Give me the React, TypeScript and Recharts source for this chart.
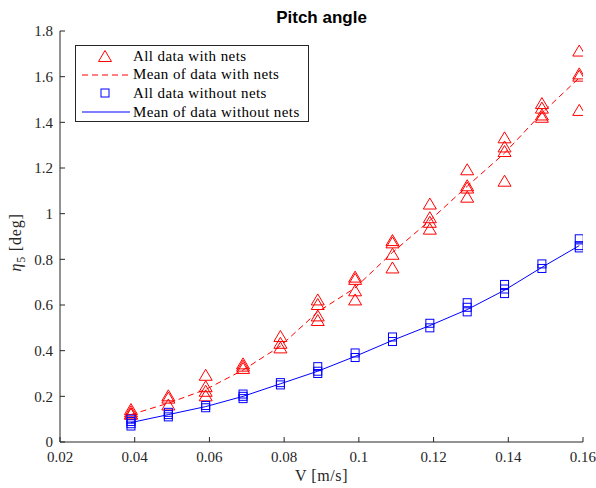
import React from "react";
import {
  ComposedChart,
  Scatter,
  Line,
  XAxis,
  YAxis,
} from "recharts";

// speeds [m/s]
const speeds = [0.039, 0.049, 0.059, 0.069, 0.079, 0.089, 0.099, 0.109, 0.119, 0.129, 0.139, 0.149, 0.159];

// all runs with nets, per speed
const withNets = [
  [0.14, 0.13, 0.12, 0.12],
  [0.2, 0.19, 0.16],
  [0.29, 0.24, 0.22, 0.2],
  [0.34, 0.33, 0.32],
  [0.46, 0.43, 0.41],
  [0.62, 0.6, 0.55, 0.53],
  [0.72, 0.71, 0.66, 0.62],
  [0.88, 0.87, 0.82, 0.76],
  [1.04, 0.98, 0.96, 0.93],
  [1.19, 1.12, 1.11, 1.07],
  [1.33, 1.29, 1.27, 1.14],
  [1.48, 1.46, 1.43, 1.42],
  [1.71, 1.61, 1.6, 1.45],
];

// all runs without nets, per speed
const withoutNets = [
  [0.1, 0.09, 0.08, 0.07],
  [0.13, 0.12, 0.11],
  [0.16, 0.15],
  [0.21, 0.2, 0.19],
  [0.26, 0.25],
  [0.33, 0.31, 0.3],
  [0.39, 0.37],
  [0.46, 0.44],
  [0.52, 0.5],
  [0.61, 0.59, 0.57],
  [0.69, 0.67, 0.65],
  [0.78, 0.76],
  [0.89, 0.86, 0.85],
];

const meanWithNets = [0.12, 0.17, 0.23, 0.315, 0.42, 0.57, 0.675, 0.83, 0.97, 1.12, 1.265, 1.44, 1.595];
const meanWithoutNets = [0.085, 0.12, 0.155, 0.2, 0.255, 0.31, 0.375, 0.445, 0.51, 0.58, 0.665, 0.765, 0.86];

const xTicks = [0.02, 0.04, 0.06, 0.08, 0.1, 0.12, 0.14, 0.16];
const yTicks = [0, 0.2, 0.4, 0.6, 0.8, 1, 1.2, 1.4, 1.6, 1.8];

const flatten = (runs: number[][]) =>
  runs.flatMap((vals, i) => vals.map((eta) => ({ v: speeds[i], eta })));
const toLine = (means: number[]) => means.map((eta, i) => ({ v: speeds[i], eta }));

const RED = "#ff0000";
const BLUE = "#0000ff";
const AXIS = "#262626";
const SERIF = "'Liberation Serif', 'DejaVu Serif', serif";

const Triangle = (props: any) => {
  const { cx, cy } = props;
  if (cx == null || cy == null) return <g />;
  return (
    <path
      d={`M${cx},${cy - 6.5}L${cx - 6.5},${cy + 4.5}L${cx + 6.5},${cy + 4.5}Z`}
      fill="none"
      stroke={RED}
      strokeWidth={1}
    />
  );
};

const Square = (props: any) => {
  const { cx, cy } = props;
  if (cx == null || cy == null) return <g />;
  return (
    <rect x={cx - 4} y={cy - 4} width={8} height={8} fill="none" stroke={BLUE} strokeWidth={1} />
  );
};

const YLabel = (props: any) => {
  const vb = props.viewBox || {};
  const cy = vb.y + vb.height / 2 + 6;
  const cx = 21;
  return (
    <text
      x={cx}
      y={cy}
      transform={`rotate(-90, ${cx}, ${cy})`}
      textAnchor="middle"
      fontFamily={SERIF}
      fontSize={16}
      letterSpacing={0.8}
      fill={AXIS}
    >
      <tspan fontStyle="italic">η</tspan>
      <tspan fontSize={12} dy={4}>5</tspan>
      <tspan dy={-4}> [deg]</tspan>
    </text>
  );
};

const tickStyle = { fontFamily: SERIF, fontSize: 15, fill: AXIS };

export default function App() {
  return (
    <div style={{ position: "absolute", left: 0, top: 0, width: 596, height: 488, background: "#fff" }}>
      <div
        style={{
          position: "absolute",
          left: 60,
          top: 8,
          width: 523,
          textAlign: "center",
          fontFamily: "'Liberation Sans', Arial, sans-serif",
          fontWeight: "bold",
          fontSize: 17,
          lineHeight: "20px",
          color: "#000",
        }}
      >
        Pitch angle
      </div>

      <ComposedChart width={596} height={488} margin={{ top: 31, right: 13, bottom: 0, left: 0 }}>
        <XAxis
          dataKey="v"
          type="number"
          domain={[0.02, 0.16]}
          ticks={xTicks}
          allowDataOverflow
          stroke={AXIS}
          height={46}
          tickSize={-5}
          tickMargin={14}
          tick={tickStyle}
          label={{
            value: "V [m/s]",
            position: "insideBottom",
            offset: 7,
            style: { fontFamily: SERIF, fontSize: 16, letterSpacing: 0.6, fill: AXIS },
          }}
        />
        <XAxis
          xAxisId="top"
          orientation="top"
          dataKey="v"
          type="number"
          domain={[0.02, 0.16]}
          ticks={xTicks}
          allowDataOverflow
          stroke={AXIS}
          height={0}
          tickSize={-5}
          tick={() => <g />}
        />
        <YAxis
          dataKey="eta"
          type="number"
          domain={[0, 1.8]}
          ticks={yTicks}
          allowDataOverflow
          stroke={AXIS}
          width={60}
          tickSize={-5}
          tickMargin={12}
          tick={tickStyle}
          label={<YLabel />}
        />
        <YAxis
          yAxisId="right"
          orientation="right"
          type="number"
          domain={[0, 1.8]}
          ticks={yTicks}
          allowDataOverflow
          stroke={AXIS}
          width={0}
          tickSize={-5}
          tick={() => <g />}
        />

        <Scatter data={flatten(withNets)} dataKey="eta" shape={<Triangle />} isAnimationActive={false} />
        <Line
          data={toLine(meanWithNets)}
          dataKey="eta"
          type="linear"
          stroke={RED}
          strokeWidth={1}
          strokeDasharray="6 4"
          dot={false}
          activeDot={false}
          isAnimationActive={false}
        />
        <Scatter data={flatten(withoutNets)} dataKey="eta" shape={<Square />} isAnimationActive={false} />
        <Line
          data={toLine(meanWithoutNets)}
          dataKey="eta"
          type="linear"
          stroke={BLUE}
          strokeWidth={1}
          dot={false}
          activeDot={false}
          isAnimationActive={false}
        />
      </ComposedChart>

      {/* legend box */}
      <div
        style={{
          position: "absolute",
          left: 75,
          top: 45,
          width: 234,
          height: 77,
          border: "1px solid #262626",
          background: "#fff",
          fontFamily: SERIF,
          fontSize: 15,
          letterSpacing: 0.4,
          color: "#000",
          boxSizing: "border-box",
          paddingTop: 1,
        }}
      >
        {[
          { label: "All data with nets", kind: "tri" },
          { label: "Mean of data with nets", kind: "dash" },
          { label: "All data without nets", kind: "sq" },
          { label: "Mean of data without nets", kind: "line" },
        ].map((item) => (
          <div key={item.label} style={{ display: "flex", alignItems: "center", height: 18.6 }}>
            <svg width={57} height={18} style={{ flex: "none" }}>
              {item.kind === "tri" && (
                <path d="M29,3.5L22.5,14.5L35.5,14.5Z" fill="none" stroke={RED} />
              )}
              {item.kind === "dash" && (
                <line x1={6} y1={9} x2={54} y2={9} stroke={RED} strokeDasharray="6 4" />
              )}
              {item.kind === "sq" && <rect x={25} y={5} width={8} height={8} fill="none" stroke={BLUE} />}
              {item.kind === "line" && <line x1={6} y1={9} x2={54} y2={9} stroke={BLUE} />}
            </svg>
            <span style={{ whiteSpace: "nowrap" }}>{item.label}</span>
          </div>
        ))}
      </div>
    </div>
  );
}
